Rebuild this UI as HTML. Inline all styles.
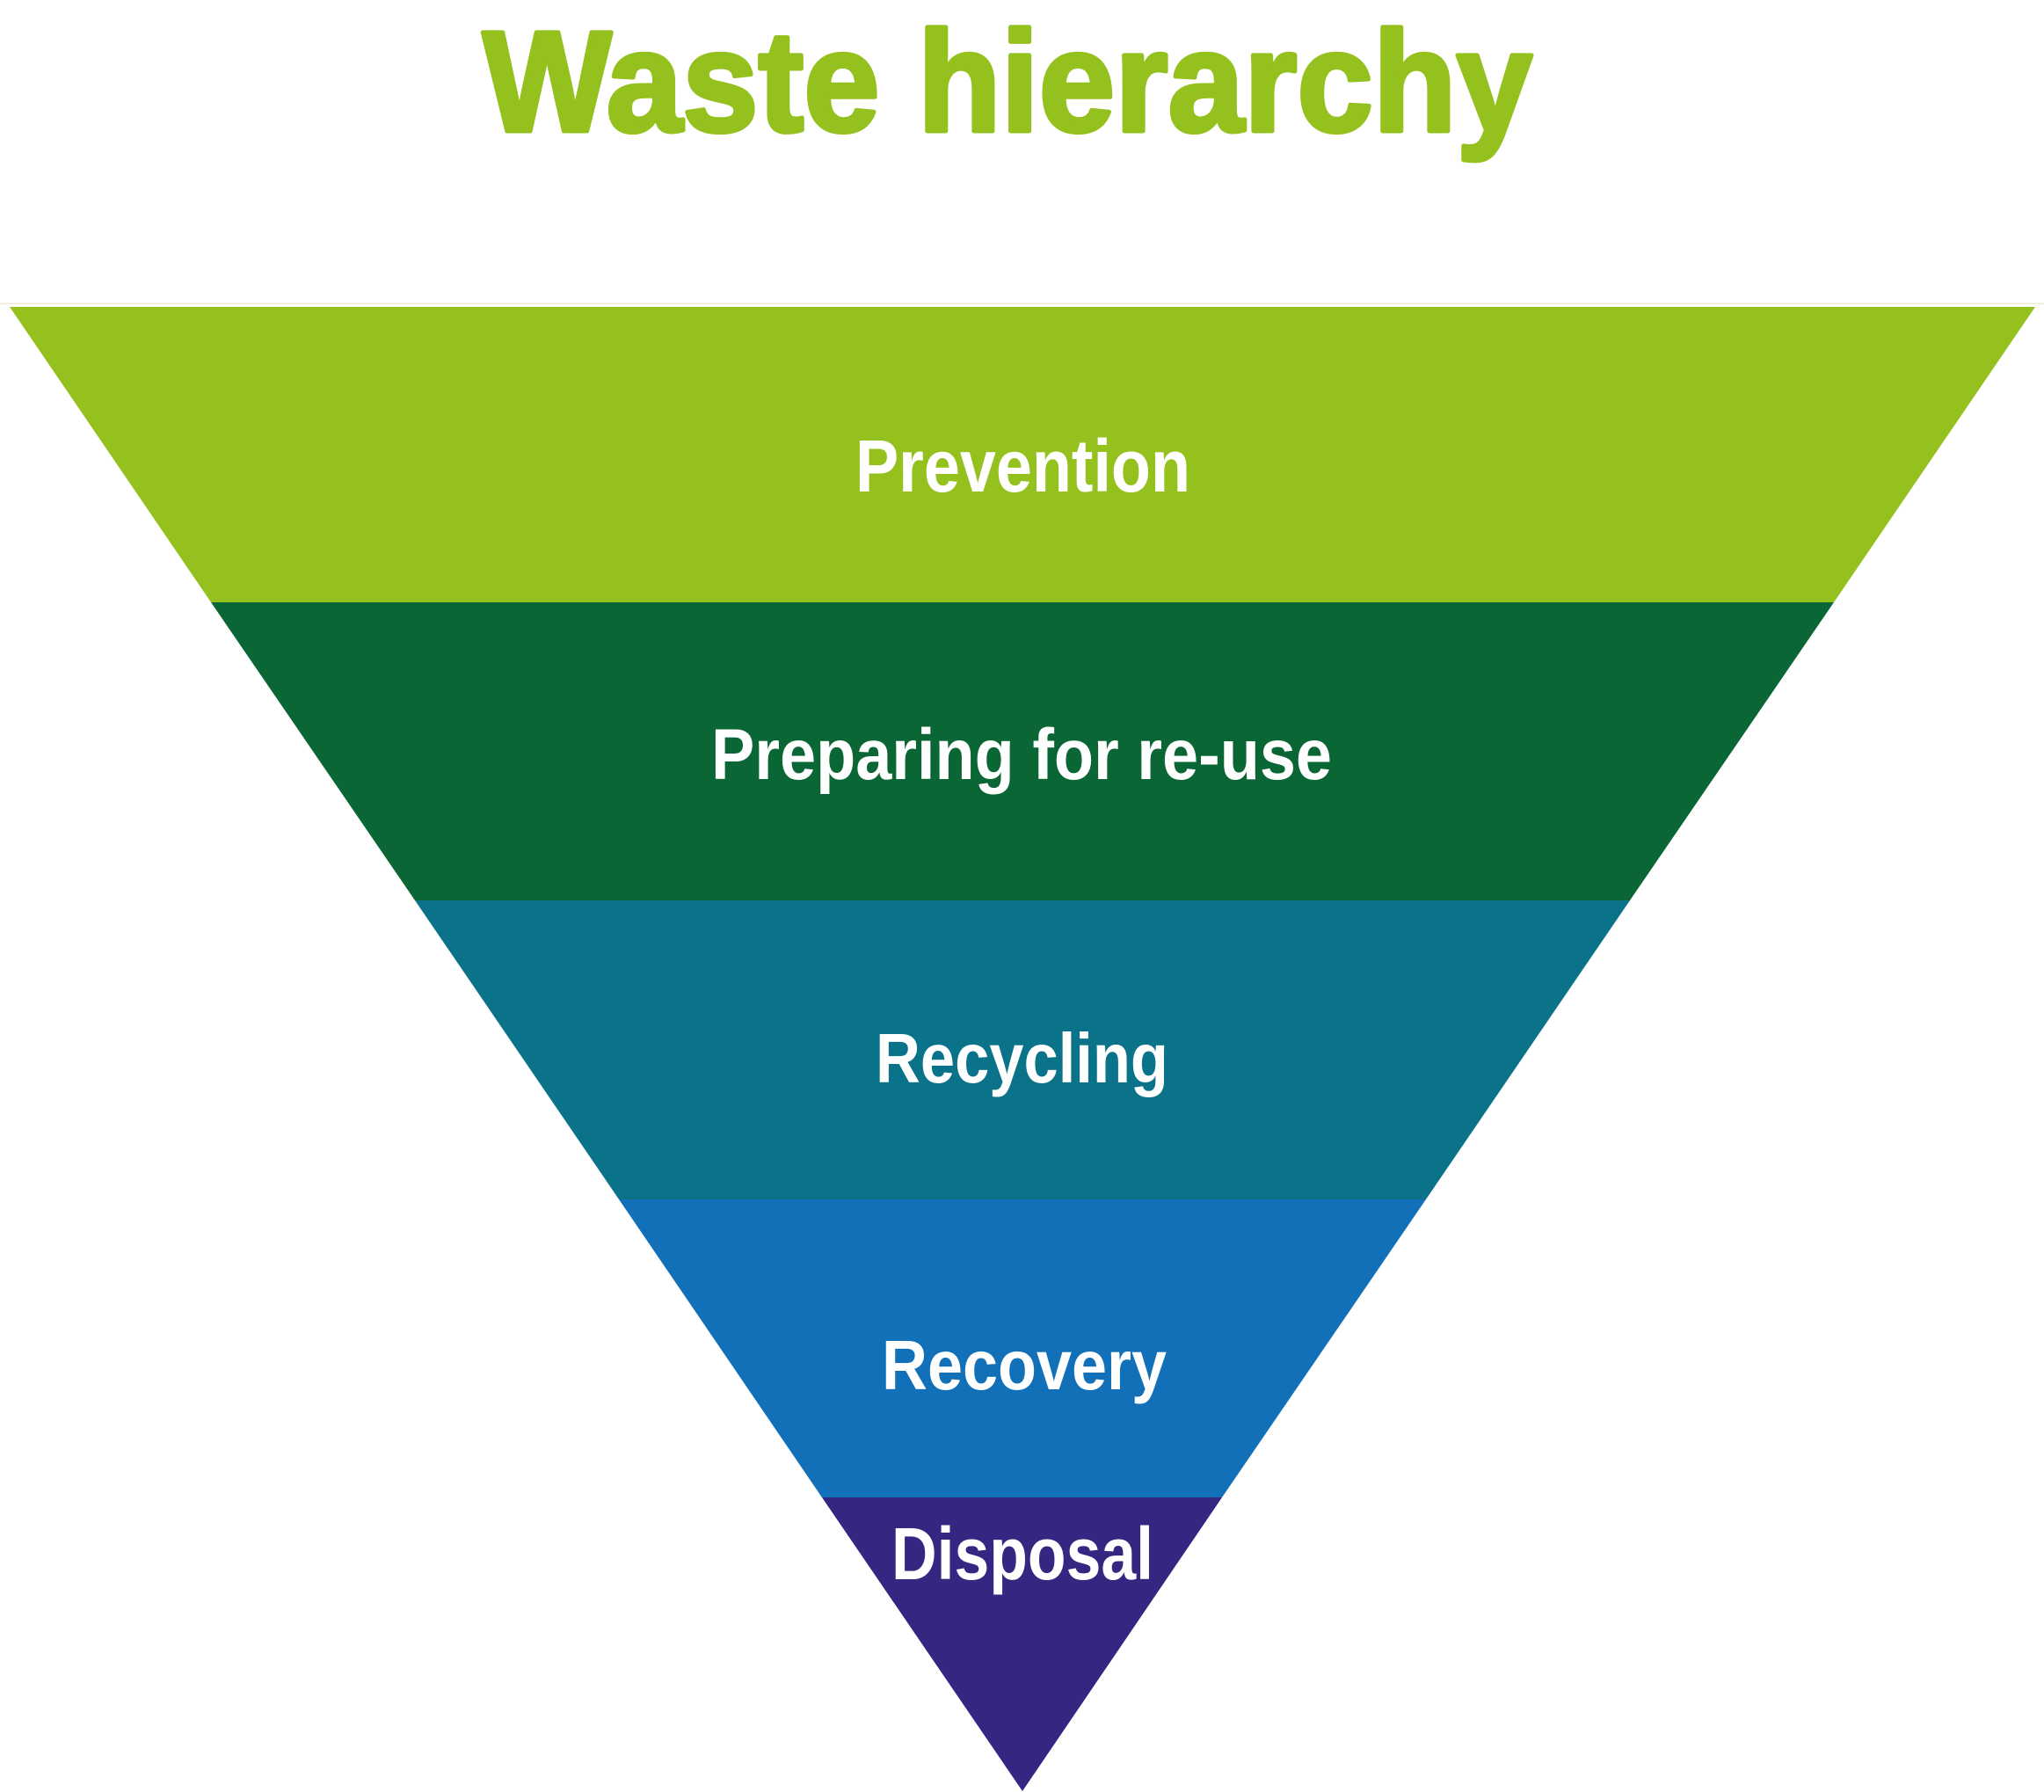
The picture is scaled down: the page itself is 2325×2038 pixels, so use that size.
<!DOCTYPE html>
<html>
<head>
<meta charset="utf-8">
<style>
  html, body { margin: 0; padding: 0; background: #ffffff; }
  body { width: 2325px; height: 2038px; overflow: hidden; }
  svg { display: block; }
  .lbl { font-family: "Liberation Sans", "DejaVu Sans", sans-serif; font-weight: bold; fill: #ffffff; }
  .title { font-family: "Liberation Sans", "DejaVu Sans", sans-serif; font-weight: bold; fill: #95c11f; stroke: #95c11f; stroke-width: 5; stroke-linejoin: round; }
</style>
</head>
<body>
<svg width="2325" height="2038" viewBox="0 0 2325 2038" xmlns="http://www.w3.org/2000/svg">
  <rect x="0" y="0" width="2325" height="2038" fill="#ffffff"/>

  <!-- Title -->
  <text class="title" x="549" y="149" font-size="163" textLength="1194" lengthAdjust="spacingAndGlyphs">Waste hierarchy</text>

  <!-- faint rule -->
  <rect x="0" y="344.5" width="2325" height="1.5" fill="#ecebd8"/>

  <!-- Bands -->
  <polygon points="11,349 2315,349 2086,685 240,685" fill="#95c11f"/>
  <polygon points="240,685 2086,685 1854,1024 472,1024" fill="#0a6735"/>
  <polygon points="472,1024 1854,1024 1622,1364 704,1364" fill="#0b7389"/>
  <polygon points="704,1364 1622,1364 1390,1703 935,1703" fill="#1170b7"/>
  <polygon points="935,1703 1390,1703 1163,2037" fill="#332782"/>

  <!-- Labels -->
  <text class="lbl" x="973" y="559" font-size="84" textLength="381" lengthAdjust="spacingAndGlyphs">Prevention</text>
  <text class="lbl" x="809" y="886" font-size="82" textLength="706" lengthAdjust="spacingAndGlyphs">Preparing for re-use</text>
  <text class="lbl" x="996" y="1231" font-size="80" textLength="333" lengthAdjust="spacingAndGlyphs">Recycling</text>
  <text class="lbl" x="1003" y="1580" font-size="80" textLength="324" lengthAdjust="spacingAndGlyphs">Recovery</text>
  <text class="lbl" x="1014" y="1796" font-size="84" textLength="298" lengthAdjust="spacingAndGlyphs">Disposal</text>
</svg>
</body>
</html>
